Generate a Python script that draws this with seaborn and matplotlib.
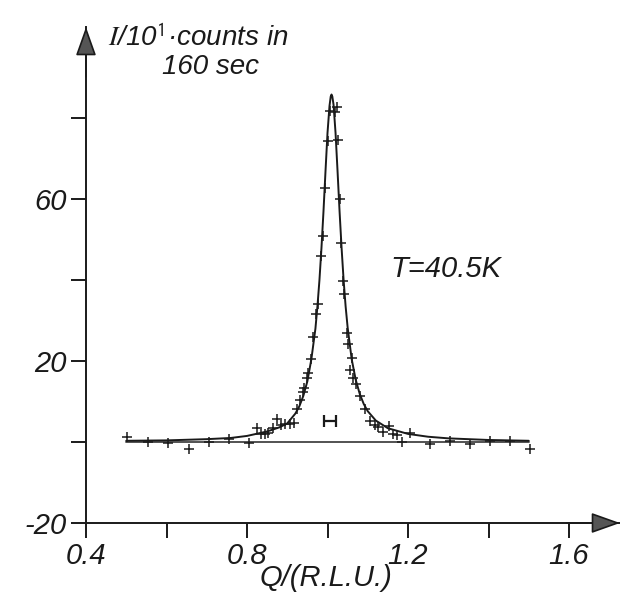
import matplotlib
matplotlib.use("Agg")
import matplotlib.pyplot as plt
import seaborn as sns
import pandas as pd

# Measured intensities (I / 10^1 counts in 160 sec) versus momentum transfer Q (r.l.u.)
q_meas = [0.501, 0.555, 0.604, 0.656, 0.706, 0.755, 0.806, 0.824, 0.836, 0.845,
          0.853, 0.864, 0.874, 0.884, 0.894, 0.907, 0.917, 0.925, 0.932, 0.938,
          0.941, 0.950, 0.952, 0.958, 0.965, 0.971, 0.976, 0.983, 0.988, 0.994,
          1.002, 1.006, 1.019, 1.024, 1.027, 1.031, 1.034, 1.038, 1.041, 1.048,
          1.052, 1.056, 1.060, 1.064, 1.071, 1.080, 1.094, 1.106, 1.117, 1.126,
          1.137, 1.153, 1.162, 1.172, 1.184, 1.205, 1.255, 1.304, 1.354, 1.404,
          1.453, 1.503]
counts_meas = [1.2, 0.1, -0.2, -1.8, 0.1, 0.7, -0.2, 3.4, 1.9, 1.9,
               2.1, 3.5, 5.8, 4.2, 4.4, 4.5, 4.8, 8.1, 10.3, 12.4,
               13.4, 15.9, 17.1, 20.4, 25.9, 31.7, 34.0, 45.9, 50.9, 62.8,
               74.3, 81.7, 81.5, 82.7, 74.5, 59.9, 49.2, 39.8, 36.5, 27.0,
               24.3, 17.9, 20.8, 15.9, 14.4, 11.3, 8.2, 5.3, 4.2, 3.7,
               2.4, 3.9, 1.9, 1.7, 0.1, 2.3, -0.6, 0.2, -0.4, 0.2,
               0.2, -1.8]

# Fitted line profile
q_fit = [0.50, 0.60, 0.70, 0.76, 0.80, 0.85, 0.88, 0.90, 0.92, 0.93, 0.94,
         0.95, 0.96, 0.97, 0.975, 0.98, 0.985, 0.99, 0.995, 1.000, 1.005,
         1.008, 1.010, 1.012, 1.015, 1.020, 1.025, 1.030, 1.035, 1.040,
         1.045, 1.050, 1.060, 1.070, 1.080, 1.090, 1.100, 1.120, 1.150,
         1.200, 1.250, 1.300, 1.400, 1.500]
counts_fit = [0.3, 0.4, 0.7, 1.0, 1.5, 2.6, 3.6, 4.6, 7.0, 8.8, 11.4,
              15.0, 20.5, 28.0, 33.5, 40.0, 47.9, 56.9, 66.8, 76.3, 83.0,
              85.3, 85.8, 85.3, 83.3, 76.3, 66.8, 56.9, 47.9, 40.0,
              33.5, 28.3, 20.5, 15.4, 11.9, 9.4, 7.6, 5.3, 3.4,
              2.0, 1.3, 0.9, 0.5, 0.3]

# Background level
q_background = [0.5, 1.5]
counts_background = [0.0, 0.0]

# Instrumental resolution bar
q_resolution = [1.006]
counts_resolution = [5.2]
half_width_resolution = [0.014]

x_ticks = [0.4, 0.6, 0.8, 1.0, 1.2, 1.4, 1.6]
x_tick_labels = ["0.4", "", "0.8", "", "1.2", "", "1.6"]
y_ticks = [-20, 0, 20, 40, 60, 80]
y_tick_labels = ["-20", "", "20", "", "60", ""]

sns.set_style("ticks")
plt.rcParams["font.family"] = ["Liberation Sans", "DejaVu Sans"]
plt.rcParams["mathtext.fontset"] = "stix"

ink = "#1a1a1a"
fig = plt.figure(figsize=(6.2, 6.04), dpi=100)
ax = fig.add_axes([86 / 620, 81 / 604, 534 / 620, 496 / 604])

meas = pd.DataFrame({"Q": q_meas, "I": counts_meas})
fit = pd.DataFrame({"Q": q_fit, "I": counts_fit})
bg = pd.DataFrame({"Q": q_background, "I": counts_background})

sns.lineplot(data=bg, x="Q", y="I", ax=ax, color="#444444", lw=1.3)
sns.lineplot(data=fit, x="Q", y="I", ax=ax, color=ink, lw=1.4)
sns.scatterplot(data=meas, x="Q", y="I", ax=ax, marker="+", s=50,
                color=ink, linewidth=1.1, zorder=4)
ax.errorbar(q_resolution, counts_resolution, xerr=half_width_resolution,
            fmt="none", ecolor=ink, elinewidth=1.6, capsize=4, capthick=1.6)

ax.set_xlim(0.4, 0.4 + 534 / 402.5)
ax.set_ylim(-20, -20 + 496 / 4.05)
ax.set_xlabel("")
ax.set_ylabel("")

for side in ("top", "right"):
    ax.spines[side].set_visible(False)
for side in ("left", "bottom"):
    ax.spines[side].set_color(ink)
    ax.spines[side].set_linewidth(1.4)

ax.set_xticks(x_ticks)
ax.set_xticklabels(x_tick_labels, fontsize=21, style="italic")
ax.set_yticks(y_ticks)
ax.set_yticklabels(y_tick_labels, fontsize=21, style="italic")
ax.tick_params(axis="both", direction="out", length=11, width=1.4,
               color=ink, labelcolor=ink, pad=3, bottom=True, left=True)

# Arrowheads at the ends of both axes
head = dict(arrowstyle="-|>,head_length=0.9,head_width=0.32", mutation_scale=20,
            fc="#555555", ec=ink, lw=1.2, shrinkA=0, shrinkB=0)
ax.annotate("", xy=(1.0, 0.0), xytext=(0.9, 0.0), xycoords="axes fraction",
            arrowprops=head, annotation_clip=False)
ax.annotate("", xy=(0.0, 1.0), xytext=(0.0, 0.9), xycoords="axes fraction",
            arrowprops=head, annotation_clip=False)

fig.text(198 / 620, 1 - 38 / 604, r"$I$/10$^{\mathsf{1}}$·counts in", fontsize=20,
         style="italic", ha="center", va="center", color=ink)
fig.text(211 / 620, 1 - 67 / 604, "160 sec", fontsize=20,
         style="italic", ha="center", va="center", color=ink)
fig.text(326 / 620, 1 - 578 / 604, "Q/(R.L.U.)", fontsize=21,
         style="italic", ha="center", va="center", color=ink)
ax.text(1.155, 42.7, "T=40.5K", fontsize=21, style="italic",
        ha="left", va="center", color=ink)

fig.savefig("out.png", dpi=100)
